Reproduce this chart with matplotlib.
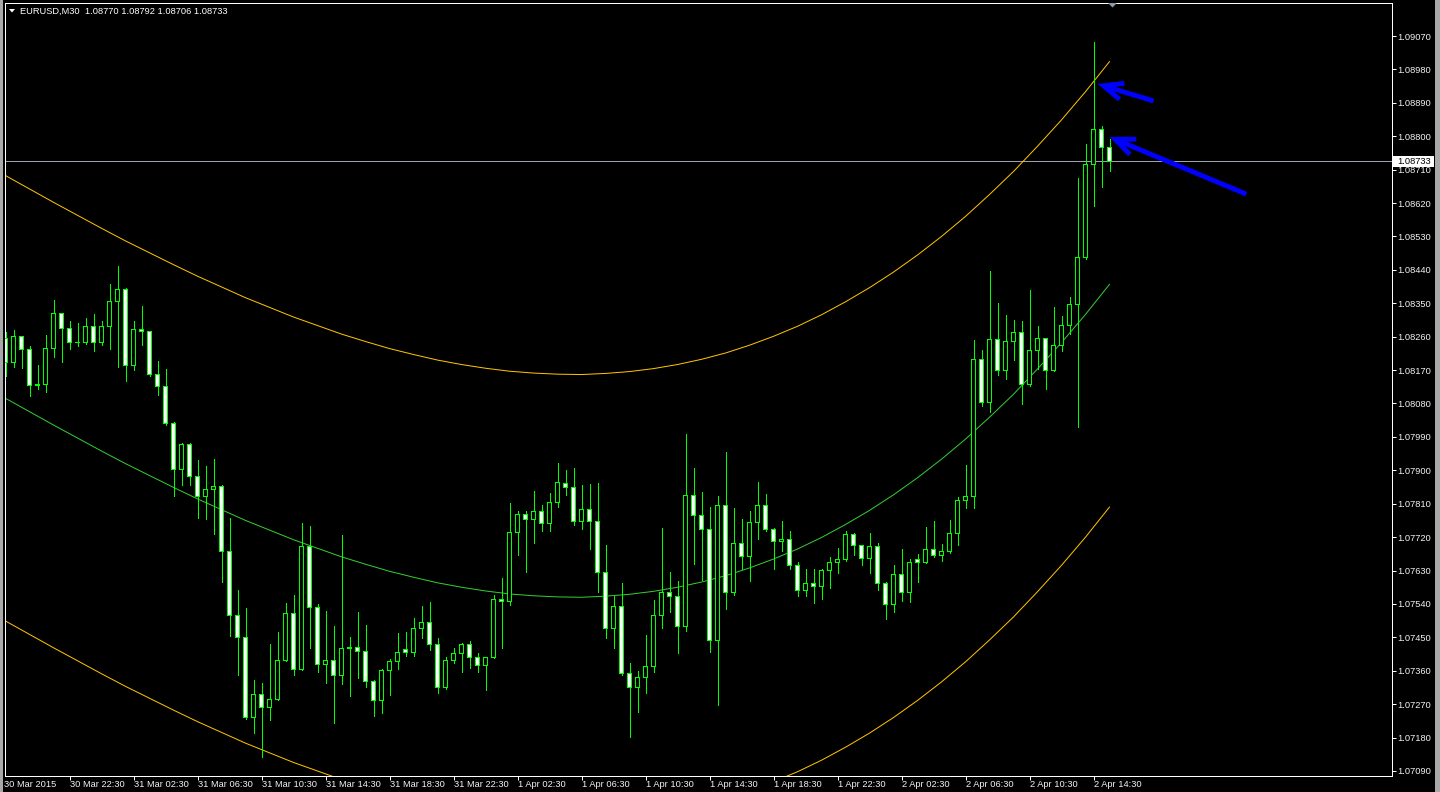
import matplotlib
matplotlib.use("Agg")
import matplotlib.pyplot as plt
from matplotlib.patches import Rectangle, FancyArrowPatch, Polygon
from matplotlib.transforms import blended_transform_factory

# ---------------- data (EURUSD M30, 30 Mar 18:30 .. 2 Apr 15:30) ----------------
opens = [1.08256, 1.08191, 1.08261, 1.08226, 1.08128, 1.08130, 1.08229, 1.08323, 1.08283, 1.08245,
         1.08243, 1.08288, 1.08245, 1.08288, 1.08355, 1.08388, 1.08182, 1.08280, 1.08275, 1.08158,
         1.08125, 1.08025, 1.07902, 1.07970, 1.07884, 1.07829, 1.07849, 1.07857, 1.07681, 1.07509,
         1.07450, 1.07235, 1.07297, 1.07262, 1.07283, 1.07389, 1.07515, 1.07364, 1.07696, 1.07531,
         1.07377, 1.07388, 1.07348, 1.07420, 1.07422, 1.07412, 1.07332, 1.07279, 1.07362, 1.07386,
         1.07418, 1.07409, 1.07474, 1.07491, 1.07430, 1.07314, 1.07388, 1.07407, 1.07431, 1.07396,
         1.07375, 1.07396, 1.07553, 1.07547, 1.07733, 1.07781, 1.07767, 1.07790, 1.07756, 1.07814,
         1.07864, 1.07854, 1.07763, 1.07795, 1.07763, 1.07625, 1.07474, 1.07534, 1.07353, 1.07315,
         1.07342, 1.07372, 1.07509, 1.07571, 1.07561, 1.07480, 1.07833, 1.07779, 1.07741, 1.07442,
         1.07806, 1.07571, 1.07703, 1.07668, 1.07760, 1.07806, 1.07741, 1.07709, 1.07714, 1.07644,
         1.07577, 1.07596, 1.07588, 1.07629, 1.07653, 1.07660, 1.07728, 1.07698, 1.07662, 1.07695,
         1.07596, 1.07539, 1.07620, 1.07570, 1.07660, 1.07652, 1.07687, 1.07671, 1.07682, 1.07731,
         1.07819, 1.07829, 1.08199, 1.08082, 1.08253, 1.08169, 1.08247, 1.08272, 1.08130, 1.08223,
         1.08255, 1.08169, 1.08236, 1.08290, 1.08346, 1.08473, 1.08724, 1.08818, 1.08770]
highs = [1.08273, 1.08278, 1.08263, 1.08235, 1.08184, 1.08264, 1.08359, 1.08325, 1.08302, 1.08296,
         1.08310, 1.08321, 1.08302, 1.08402, 1.08450, 1.08390, 1.08302, 1.08343, 1.08276, 1.08194,
         1.08173, 1.08030, 1.07974, 1.07974, 1.07928, 1.07912, 1.07930, 1.07860, 1.07772, 1.07578,
         1.07529, 1.07335, 1.07327, 1.07432, 1.07464, 1.07543, 1.07564, 1.07757, 1.07749, 1.07540,
         1.07521, 1.07481, 1.07725, 1.07450, 1.07518, 1.07483, 1.07335, 1.07365, 1.07392, 1.07462,
         1.07464, 1.07502, 1.07534, 1.07545, 1.07448, 1.07396, 1.07420, 1.07435, 1.07439, 1.07407,
         1.07398, 1.07564, 1.07610, 1.07812, 1.07790, 1.07790, 1.07844, 1.07807, 1.07839, 1.07920,
         1.07901, 1.07906, 1.07860, 1.07863, 1.07866, 1.07699, 1.07562, 1.07596, 1.07381, 1.07359,
         1.07456, 1.07551, 1.07745, 1.07625, 1.07601, 1.07998, 1.07906, 1.07842, 1.07800, 1.07831,
         1.07949, 1.07798, 1.07769, 1.07790, 1.07868, 1.07836, 1.07745, 1.07763, 1.07737, 1.07653,
         1.07634, 1.07634, 1.07633, 1.07666, 1.07690, 1.07736, 1.07730, 1.07700, 1.07731, 1.07704,
         1.07598, 1.07645, 1.07688, 1.07661, 1.07675, 1.07747, 1.07763, 1.07702, 1.07766, 1.07827,
         1.07913, 1.08250, 1.08224, 1.08437, 1.08350, 1.08319, 1.08304, 1.08302, 1.08385, 1.08288,
         1.08256, 1.08339, 1.08316, 1.08366, 1.08688, 1.08779, 1.09054, 1.08827, 1.08792]
lows = [1.08155, 1.08179, 1.08176, 1.08101, 1.08118, 1.08110, 1.08206, 1.08193, 1.08227, 1.08236,
        1.08240, 1.08222, 1.08238, 1.08227, 1.08179, 1.08141, 1.08170, 1.08238, 1.08155, 1.08103,
        1.08022, 1.07832, 1.07861, 1.07860, 1.07772, 1.07768, 1.07728, 1.07600, 1.07454, 1.07349,
        1.07230, 1.07192, 1.07128, 1.07228, 1.07280, 1.07385, 1.07349, 1.07362, 1.07422, 1.07357,
        1.07326, 1.07220, 1.07324, 1.07293, 1.07341, 1.07317, 1.07239, 1.07247, 1.07295, 1.07366,
        1.07400, 1.07401, 1.07449, 1.07416, 1.07301, 1.07312, 1.07380, 1.07357, 1.07368, 1.07357,
        1.07308, 1.07394, 1.07422, 1.07537, 1.07672, 1.07627, 1.07705, 1.07737, 1.07737, 1.07802,
        1.07833, 1.07753, 1.07743, 1.07689, 1.07573, 1.07449, 1.07422, 1.07349, 1.07182, 1.07250,
        1.07299, 1.07357, 1.07476, 1.07517, 1.07409, 1.07468, 1.07648, 1.07604, 1.07411, 1.07269,
        1.07527, 1.07565, 1.07633, 1.07603, 1.07716, 1.07737, 1.07635, 1.07683, 1.07635, 1.07562,
        1.07562, 1.07543, 1.07554, 1.07584, 1.07624, 1.07656, 1.07671, 1.07645, 1.07623, 1.07578,
        1.07500, 1.07518, 1.07549, 1.07545, 1.07600, 1.07650, 1.07667, 1.07656, 1.07677, 1.07699,
        1.07798, 1.07798, 1.08074, 1.08057, 1.08156, 1.08146, 1.08197, 1.08079, 1.08126, 1.08174,
        1.08120, 1.08167, 1.08222, 1.08267, 1.08016, 1.08468, 1.08613, 1.08663, 1.08706]
closes = [1.08191, 1.08261, 1.08226, 1.08128, 1.08130, 1.08229, 1.08323, 1.08283, 1.08245, 1.08243,
          1.08288, 1.08245, 1.08288, 1.08355, 1.08388, 1.08182, 1.08280, 1.08275, 1.08158, 1.08125,
          1.08025, 1.07902, 1.07970, 1.07884, 1.07829, 1.07849, 1.07857, 1.07681, 1.07509, 1.07450,
          1.07235, 1.07297, 1.07262, 1.07283, 1.07389, 1.07515, 1.07364, 1.07696, 1.07531, 1.07377,
          1.07388, 1.07348, 1.07420, 1.07422, 1.07412, 1.07332, 1.07279, 1.07362, 1.07386, 1.07410,
          1.07409, 1.07474, 1.07491, 1.07430, 1.07314, 1.07388, 1.07407, 1.07431, 1.07396, 1.07375,
          1.07396, 1.07553, 1.07547, 1.07733, 1.07781, 1.07767, 1.07790, 1.07756, 1.07814, 1.07868,
          1.07854, 1.07763, 1.07795, 1.07763, 1.07625, 1.07474, 1.07534, 1.07353, 1.07315, 1.07342,
          1.07372, 1.07509, 1.07571, 1.07561, 1.07480, 1.07833, 1.07779, 1.07741, 1.07442, 1.07806,
          1.07571, 1.07703, 1.07668, 1.07760, 1.07806, 1.07741, 1.07709, 1.07714, 1.07644, 1.07577,
          1.07596, 1.07588, 1.07629, 1.07653, 1.07660, 1.07728, 1.07698, 1.07662, 1.07695, 1.07596,
          1.07539, 1.07620, 1.07570, 1.07652, 1.07652, 1.07687, 1.07671, 1.07682, 1.07731, 1.07819,
          1.07829, 1.08199, 1.08082, 1.08253, 1.08169, 1.08247, 1.08272, 1.08130, 1.08223, 1.08255,
          1.08169, 1.08236, 1.08290, 1.08346, 1.08473, 1.08724, 1.08818, 1.08770, 1.08733]

# regression channel: middle line read every 3 bars, plus the channel half width
channel_bars = list(range(0, 139, 3))
channel_mid = [1.08094, 1.08058, 1.08022, 1.07987, 1.07952, 1.07918, 1.07886, 1.07854,
               1.07823, 1.07794, 1.07765, 1.07739, 1.07713, 1.07690, 1.07667, 1.07647,
               1.07628, 1.07612, 1.07597, 1.07585, 1.07575, 1.07567, 1.07562, 1.07559,
               1.07558, 1.07561, 1.07566, 1.07574, 1.07585, 1.07599, 1.07616, 1.07637,
               1.07661, 1.07688, 1.07719, 1.07754, 1.07792, 1.07834, 1.07880, 1.07930,
               1.07984, 1.08043, 1.08105, 1.08173, 1.08244, 1.08320, 1.08401]
channel_halfwidth = 0.00600

time_label_bars = [0, 8, 16, 24, 32, 40, 48, 56, 64, 72, 80, 88, 96, 104, 112, 120, 128, 136]
time_labels = ["30 Mar 2015", "30 Mar 22:30", "31 Mar 02:30", "31 Mar 06:30", "31 Mar 10:30",
               "31 Mar 14:30", "31 Mar 18:30", "31 Mar 22:30", "1 Apr 02:30", "1 Apr 06:30",
               "1 Apr 10:30", "1 Apr 14:30", "1 Apr 18:30", "1 Apr 22:30", "2 Apr 02:30",
               "2 Apr 06:30", "2 Apr 10:30", "2 Apr 14:30"]
price_ticks = [1.07090, 1.07180, 1.07270, 1.07360, 1.07450, 1.07540, 1.07630, 1.07720,
               1.07810, 1.07900, 1.07990, 1.08080, 1.08170, 1.08260, 1.08350, 1.08440,
               1.08530, 1.08620, 1.08710, 1.08800, 1.08890, 1.08980, 1.09070]
symbol = "EURUSD,M30"

# ---------------- layout ----------------
W, H, DPI = 1440, 792, 100
PX = 72.0 / DPI          # one pixel in points
FONT = "Liberation Sans"
GREEN = "#00FF00"
GOLD = "#FFC400"
MIDGREEN = "#32CD32"

fig = plt.figure(figsize=(W / DPI, H / DPI), dpi=DPI, facecolor="black")
L_, R_, T_, B_ = 4.5, 1391.5, 2.5, 775.5          # frame (pixel centres)
ax = fig.add_axes([L_ / W, 1 - B_ / H, (R_ - L_) / W, (B_ - T_) / H])
ax.set_facecolor("black")

k = 0.0009 / 33.409                                 # price per pixel
top_price = price_ticks[-1]                          # drawn at pixel row 36
ax.set_ylim(top_price - (B_ - 36) * k, top_price + (36 - T_) * k)
ax.set_xlim((L_ - 5.5) / 8, (R_ - 5.5) / 8)          # bar i centred on pixel column 5+8i

# channel
upper = [m + channel_halfwidth for m in channel_mid]
lower = [m - channel_halfwidth for m in channel_mid]
ax.plot(channel_bars, upper, color=GOLD, lw=1.0 * PX, zorder=2)
ax.plot(channel_bars, lower, color=GOLD, lw=1.0 * PX, zorder=2)
ax.plot(channel_bars, channel_mid, color=MIDGREEN, lw=1.0 * PX, zorder=2)

# candles (MT4 style: 5 px body with 1 px green border)
for i, (o, h, l, c) in enumerate(zip(opens, highs, lows, closes)):
    ax.vlines(i, l, h, color=GREEN, lw=1.0 * PX, antialiased=False, zorder=3)
    lo, hi = min(o, c), max(o, c)
    ax.add_patch(Rectangle((i - 0.3125, lo - 0.5 * k), 0.625, hi - lo + k, facecolor=GREEN,
                           edgecolor="none", antialiased=False, zorder=4))
    if hi - lo > 1.2 * k:
        face = "white" if c < o else "black"
        ax.add_patch(Rectangle((i - 0.1875, lo + 0.5 * k), 0.375, hi - lo - k, facecolor=face,
                               edgecolor="none", antialiased=False, zorder=5))

# last price line
last = closes[-1]
ax.axhline(last, color="#9AA2B0", lw=1.0 * PX, zorder=1)

# arrows
for tail, tip in [((143.5, 1.08895), (136.5, 1.08941)), ((155.1, 1.08644), (138.0, 1.08798))]:
    ax.add_patch(FancyArrowPatch(tail, tip, arrowstyle="->,head_length=14,head_width=6",
                                 mutation_scale=1, lw=3.5, color="#0000FF", zorder=6,
                                 shrinkA=0, shrinkB=0, capstyle="butt", joinstyle="miter"))

# spines
for s in ax.spines.values():
    s.set_color("white")
    s.set_linewidth(1.0 * PX)

# y axis on right
ax.yaxis.tick_right()
ax.set_yticks(price_ticks)
ax.set_yticklabels([f"{p:.5f}" for p in price_ticks])
ax.tick_params(axis="y", colors="white", length=4 * PX, width=1.0 * PX, pad=1.5,
               labelsize=6.7, labelcolor="#F2F2F2")
for t in ax.get_yticklabels():
    t.set_fontfamily(FONT)

# x axis
ax.set_xticks(time_label_bars[1:])
ax.set_xticklabels([])
ax.tick_params(axis="x", colors="white", length=4 * PX, width=1.0 * PX, direction="out")
trans = blended_transform_factory(ax.transData, fig.transFigure)
for b, lab in zip(time_label_bars, time_labels):
    xoff = -0.25 if b == 0 else 0.0
    ax.text(b + xoff, 1 - 784.5 / H, lab, transform=trans, ha="left", va="center",
            fontsize=6.7, family=FONT, color="#F2F2F2", clip_on=False)

# last price label box
fig.patches.append(Rectangle((1392.5 / W, 1 - 166.5 / H), (1434 - 1392.5) / W, 10.5 / H,
                             transform=fig.transFigure, facecolor="white", edgecolor="none",
                             zorder=5))
fig.text(1397 / W, 1 - 161.5 / H, f"{last:.5f}", ha="left", va="center", fontsize=6.7,
         family=FONT, color="black", zorder=6)

# header
fig.patches.append(Polygon([(9 / W, 1 - 9 / H), (15 / W, 1 - 9 / H), (12 / W, 1 - 12.5 / H)],
                           closed=True, transform=fig.transFigure, facecolor="white",
                           edgecolor="none"))
fig.text(20.5 / W, 1 - 11 / H,
         f"{symbol}  {opens[-1]:.5f} {highs[-1]:.5f} {lows[-1]:.5f} {closes[-1]:.5f}",
         ha="left", va="center", fontsize=6.7, family=FONT, color="white")

# chart shift marker
fig.patches.append(Polygon([(1108 / W, 1 - 3 / H), (1117 / W, 1 - 3 / H), (1112.5 / W, 1 - 7.5 / H)],
                           closed=True, transform=fig.transFigure, facecolor="#8A98A8",
                           edgecolor="none"))

# window borders
fig.patches.append(Rectangle((0, 0), 3 / W, 1, transform=fig.transFigure,
                             facecolor="#A8A8A8", edgecolor="none"))
fig.patches.append(Rectangle((1435 / W, 0), 5 / W, 1, transform=fig.transFigure,
                             facecolor="#A8A8A8", edgecolor="none"))

fig.savefig("out.png", dpi=DPI, facecolor="black")
